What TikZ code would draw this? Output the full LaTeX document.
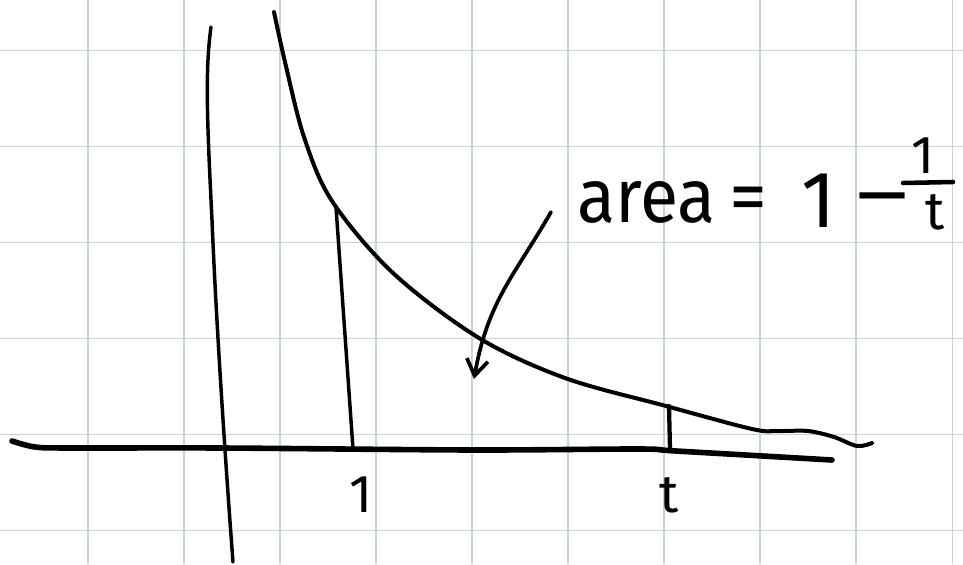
\documentclass[tikz,border=0pt]{standalone}
\usepackage{fontspec}
\setmainfont{Fira Sans}
\usetikzlibrary{arrows.meta}
\definecolor{gridblue}{RGB}{196,210,228}
\begin{document}
\begin{tikzpicture}[x=0.75pt,y=-0.75pt,
  gridline/.style={draw=gridblue, line width=1.4pt},
  ink/.style={draw=black, line width=2.8pt, line cap=round, line join=round},
  lbl/.style={inner sep=0pt, outer sep=0pt, font=\fontsize{40}{40}\selectfont},
  big/.style={inner sep=0pt, outer sep=0pt, font=\fontsize{57}{57}\selectfont}]
\useasboundingbox (0,0) rectangle (963,564);
\fill[white] (0,0) rectangle (963,564);
% grid
\foreach \i in {0,...,9} \draw[gridline] ({88+96.05*\i},0) -- ({88+96.05*\i},564);
\foreach \y in {50.5,146.5,242.5,338.5,434.5,530.5} \draw[gridline] (0,\y) -- (963,\y);
% y axis
\draw[ink, line width=2.6pt] (211,27) .. controls (205,70) and (207,120) .. (212,220)
  .. controls (216,320) and (226,470) .. (233,562);
% x axis
\draw[ink, line width=4.2pt] plot[smooth, tension=0.5] coordinates {(12,441) (35,447) (70,448) (221,448) (473,450) (639,449) (676,451) (832,460)};
% curve 1/x
\draw[ink, line width=3pt] plot[smooth, tension=0.55] coordinates {(274,12) (285,62) (304,137) (332,201) (393,273) (479,338) (565,378) (666,406) (752,429) (778,431) (808,431) (834,437) (857,446) (872,443)};
% verticals
\coordinate (v1top) at (336,207);
\coordinate (v1bot) at (353,449);
\draw[ink, line width=2.6pt] (v1top) -- (v1bot);
\coordinate (vttop) at (669,406);
\coordinate (vtbot) at (670,449);
\draw[ink, line width=3.2pt] (vttop) -- (vtbot);
% labels on axis
\node[lbl, anchor=base] (one) at (361,512) {1};
\node[lbl, anchor=base] (tee) at (669,512) {t};
% arrow
\coordinate (arrstart) at (551,212);
\coordinate (arrtip) at (474,379);
\draw[ink, line width=2.8pt, -{Straight Barb[length=12pt,width=16pt,line width=2.8pt]}] (arrstart) .. controls (515,275) and (488,300) .. (arrtip);
% area label
\node[big, anchor=base west, xscale=0.92] (area) at (577,222) {area};
\node[big, anchor=base west] (eq) at (729,222) {=};
\node[inner sep=0pt, anchor=base, font=\fontsize{60}{60}\selectfont] (oneb) at (819,227) {1};
\node[inner sep=0pt, anchor=base, xscale=1.5, font=\fontsize{60}{60}\selectfont] (minus) at (882,222) {−};
\node[lbl, anchor=base] (num) at (923,173) {1};
\node[lbl, anchor=base] (den) at (935,229) {t};
\draw[ink, line width=3.4pt] (903,183) -- (953,182);
\end{tikzpicture}
\end{document}
